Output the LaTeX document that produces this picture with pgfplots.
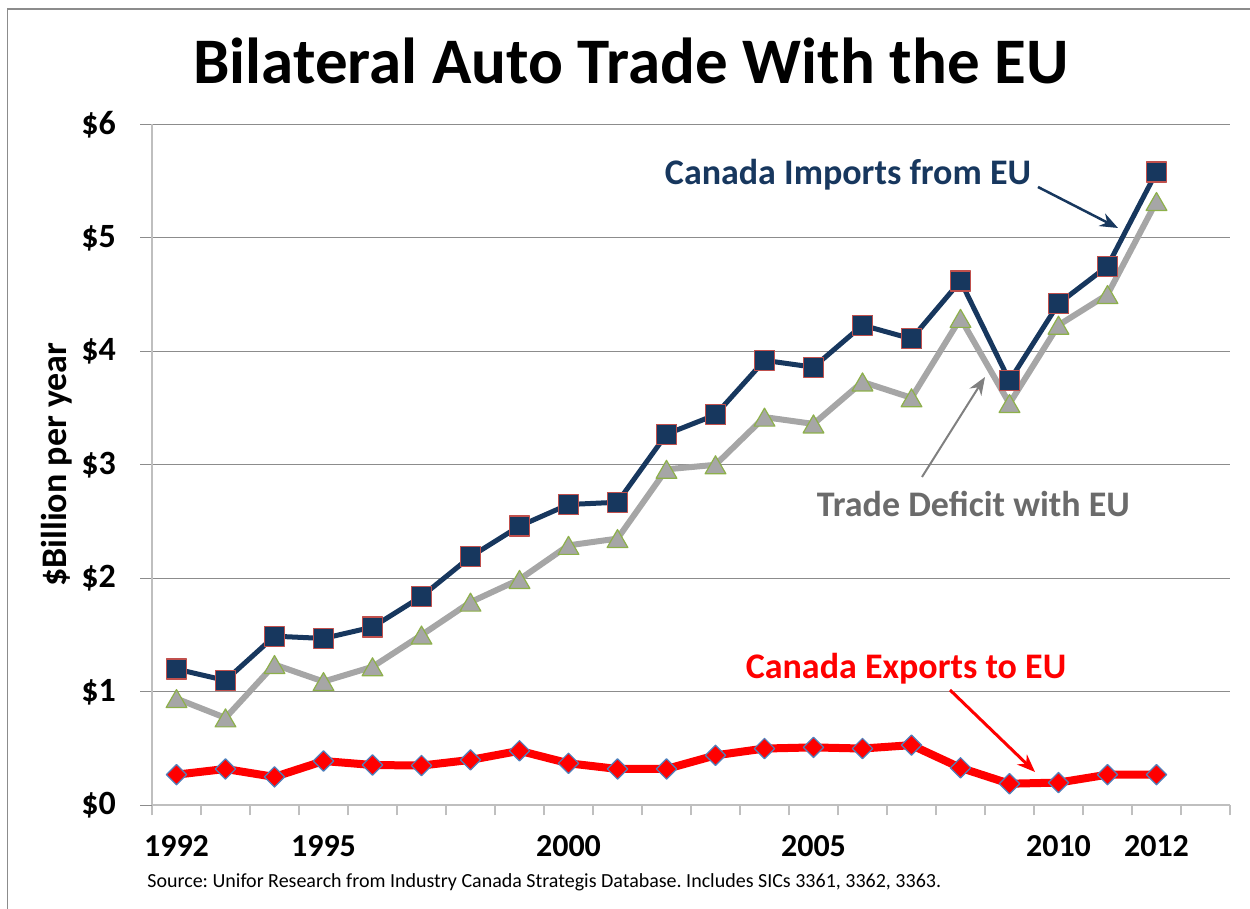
\documentclass[border=0pt]{standalone}
\usepackage{pgfplots}
\pgfplotsset{compat=1.18}
\usepackage{fontspec}
\setmainfont{Carlito}
\usetikzlibrary{arrows.meta}
\definecolor{navy}{HTML}{17375E}
\definecolor{sqedge}{HTML}{C0504D}
\definecolor{grayline}{HTML}{A6A6A6}
\definecolor{triedge}{HTML}{8DB04A}
\definecolor{redline}{HTML}{FF0000}
\definecolor{diaedge}{HTML}{4F81BD}
\definecolor{gridc}{HTML}{8C8C8C}
\definecolor{axisc}{HTML}{BFBFBF}
\definecolor{defc}{HTML}{6B6B6B}
\definecolor{framec}{HTML}{8C8C8C}
\frenchspacing
\begin{document}
\begin{tikzpicture}
\useasboundingbox (0,0) rectangle (625pt,454.5pt);
\begin{axis}[
  at={(76pt,51.85pt)}, anchor=south west, scale only axis,
  width=539pt, height=340.5pt,
  xmin=1991.5, xmax=2013.5, ymin=0, ymax=6,
  axis lines*=left,
  x axis line style={draw=axisc, line width=0.8pt},
  y axis line style={draw=axisc, line width=1pt},
  tick align=outside,
  xtick={1992,1995,2000,2005,2010,2012},
  xticklabels={1992,1995,2000,2005,2010,2012},
  minor xtick={1991.5,1992.5,...,2013.5},
  major x tick style={draw=none},
  minor x tick style={draw=axisc, line width=0.8pt},
  minor tick length=5pt,
  major tick length=6pt,
  ytick={0,1,...,6},
  yticklabels={\$0,\$1,\$2,\$3,\$4,\$5,\$6},
  y tick style={draw=gridc, line width=0.5pt},
  ymajorgrids,
  y grid style={draw=gridc, line width=0.5pt},
  xticklabel style={font=\fontsize{16}{19}\selectfont\bfseries, anchor=north, yshift=-5.5pt},
  yticklabel style={font=\fontsize{17}{20}\selectfont\bfseries, anchor=east, xshift=-8.5pt},
  ylabel={\$Billion per year},
  every axis y label/.style={at={(axis description cs:-0.0881,0.5)}, rotate=90, anchor=center,
    font=\fontsize{18}{21}\selectfont\bfseries},
  clip=false,
]
% Canada imports from EU
\addplot[navy, line width=2.5pt, line join=round, mark=square*, mark size=5pt,
  mark options={fill=navy, draw=sqedge, line width=0.6pt}] coordinates {
 (1992,1.20) (1993,1.10) (1994,1.49) (1995,1.47) (1996,1.57) (1997,1.84)
 (1998,2.19) (1999,2.46) (2000,2.65) (2001,2.67) (2002,3.27) (2003,3.44)
 (2004,3.92) (2005,3.86) (2006,4.23) (2007,4.11) (2008,4.62) (2009,3.74)
 (2010,4.42) (2011,4.75) (2012,5.58)};
% Trade deficit with EU
\addplot[grayline, line width=3pt, line join=round, mark=triangle*, mark size=6pt,
  mark options={fill=grayline, draw=triedge, line width=0.6pt, yshift=-1.5pt}] coordinates {
 (1992,0.94) (1993,0.77) (1994,1.24) (1995,1.09) (1996,1.22) (1997,1.50)
 (1998,1.79) (1999,1.99) (2000,2.29) (2001,2.35) (2002,2.96) (2003,3.00)
 (2004,3.42) (2005,3.36) (2006,3.73) (2007,3.59) (2008,4.29) (2009,3.54)
 (2010,4.23) (2011,4.50) (2012,5.32)};
% Canada exports to EU
\addplot[redline, line width=4pt, line join=round, mark=square*, mark size=3.6pt,
  mark options={fill=redline, draw=diaedge, line width=0.6pt, rotate=45}] coordinates {
 (1992,0.27) (1993,0.32) (1994,0.25) (1995,0.39) (1996,0.355) (1997,0.35)
 (1998,0.40) (1999,0.48) (2000,0.37) (2001,0.32) (2002,0.32) (2003,0.44)
 (2004,0.50) (2005,0.51) (2006,0.50) (2007,0.53) (2008,0.33) (2009,0.19)
 (2010,0.20) (2011,0.27) (2012,0.27)};
\end{axis}
\begin{scope}[x=0.5pt, y=-0.5pt, yshift=454.5pt]
  \draw[framec, line width=0.75pt] (7.5,909) -- (7.5,9) -- (1250,9);
  \node[font=\fontsize{32.5}{39}\selectfont\bfseries, anchor=base] at (631,84) {Bilateral Auto Trade With the EU};
  \node[font=\fontsize{18}{21}\selectfont\bfseries, text=navy, anchor=base] at (848,185) {Canada Imports from EU};
  \node[font=\fontsize{18}{21}\selectfont\bfseries, text=defc, anchor=base] at (973.5,517) {Trade Deficit with EU};
  \node[font=\fontsize{18}{21}\selectfont\bfseries, text=redline, anchor=base] at (906,679) {Canada Exports to EU};
  \draw[navy, line width=1.25pt, -{Stealth[length=9pt,width=7pt]}] (1038,187) -- (1118,228);
  \draw[gray, line width=1pt, -{Stealth[length=9pt,width=7pt]}] (922,477) -- (985,377);
  \draw[redline, line width=1.5pt, -{Stealth[length=9pt,width=7pt]}] (950,690) -- (1035,772);
  \node[font=\fontsize{10}{12}\selectfont, anchor=base west, inner sep=0pt] at (147,888) {Source: Unifor Research from Industry Canada Strategis Database. Includes SICs 3361, 3362, 3363.};
\end{scope}
\end{tikzpicture}
\end{document}
